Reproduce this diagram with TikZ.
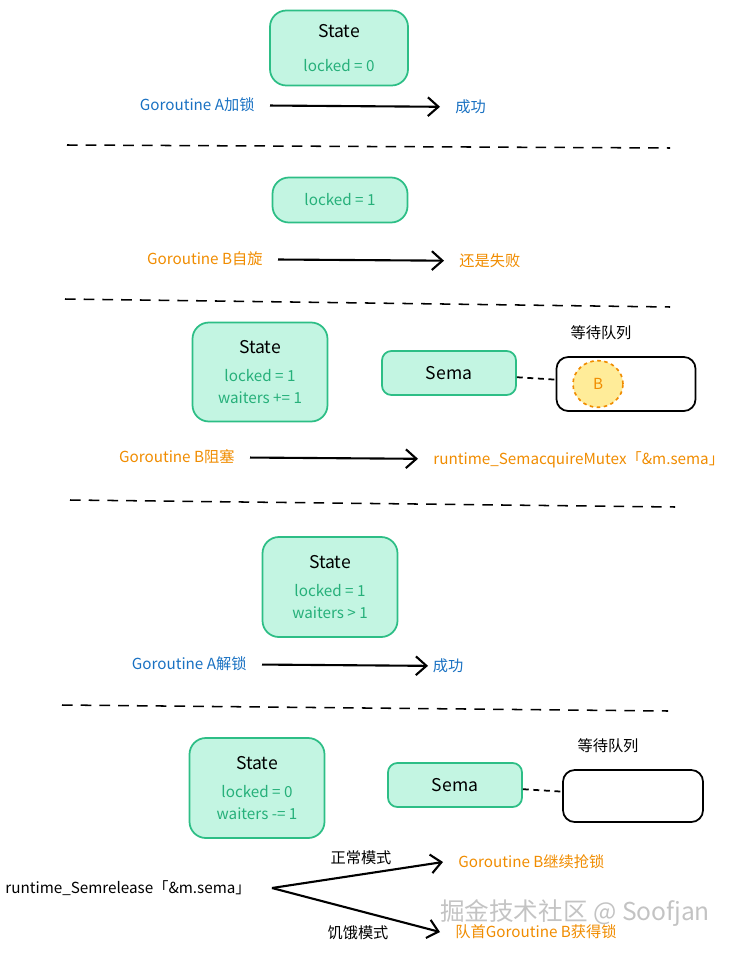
\documentclass[tikz,border=0pt]{standalone}
\usepackage{fontspec}
\usetikzlibrary{arrows.meta,shapes.geometric}
\newfontfamily\cjk{Noto Sans CJK SC}

\definecolor{mintfill}{HTML}{C3F5E2}
\definecolor{mintline}{HTML}{2DBE86}
\definecolor{minttext}{HTML}{26B07A}
\definecolor{goblue}{HTML}{1971C2}
\definecolor{goorange}{HTML}{F08C00}
\definecolor{waitfill}{HTML}{FFEC99}

\tikzset{
 every node/.style={font=\cjk\fontsize{13}{18}\selectfont},
 statebox/.style={draw=mintline, fill=mintfill, line width=1.5pt, rounded corners=14pt, align=center, minimum width=4.05cm},
 semabox/.style={draw=mintline, fill=mintfill, line width=1.5pt, rounded corners=8pt, minimum width=4.02cm, minimum height=1.32cm, font=\cjk\fontsize{15}{18}\selectfont},
 queuebox/.style={draw=black, fill=white, line width=1.5pt, rounded corners=10pt, minimum width=4.2cm, minimum height=1.6cm},
 waiter/.style={ellipse, draw=goorange, fill=waitfill, dashed, line width=1.4pt, minimum width=1.5cm, minimum height=1.4cm, text=goorange},
 flowlabel/.style={inner xsep=13pt},
 flow/.style={-{Straight Barb[length=9pt,width=16pt]}, line width=1.8pt},
 divider/.style={dash pattern=on 9pt off 7pt, line width=1.3pt},
 link/.style={dash pattern=on 5pt off 4pt, line width=1.5pt}
}
\newcommand{\statetitle}{{\fontsize{15}{18}\selectfont State}}

\begin{document}
\begin{tikzpicture}[x=0.03cm,y=-0.03cm]
 \useasboundingbox (0,0) rectangle (739,953);

 \node[statebox, minimum width=4.14cm, minimum height=2.25cm] (s1) at (339,48) {\statetitle\\[11pt]\textcolor{minttext}{locked = 0}};
 \node[flowlabel, anchor=east, text=goblue] (a1) at (270,105) {Goroutine A加锁};
 \node[flowlabel, anchor=west, text=goblue] (r1) at (440,107) {成功};
 \draw[flow] (a1) -- (r1);
 \coordinate (d1l) at (67,145);
 \coordinate (d1r) at (670,148);
 \draw[divider] (d1l) -- (d1r);

 \node[statebox, minimum height=1.35cm] (s2) at (340,200) {\textcolor{minttext}{locked = 1}};
 \node[flowlabel, anchor=east, text=goorange] (b2) at (278,259) {Goroutine B自旋};
 \node[flowlabel, anchor=west, text=goorange] (r2) at (444,261) {还是失败};
 \draw[flow] (b2) -- (r2);
 \coordinate (d2l) at (65,299);
 \coordinate (d2r) at (670,307);
 \draw[divider] (d2l) -- (d2r);

 \node[statebox, minimum height=2.97cm] (s3) at (260,372) {\statetitle\\[6pt]\textcolor{minttext}{locked = 1}\\\textcolor{minttext}{waiters += 1}};
 \node[semabox] (m3) at (449,373) {Sema};
 \node (t3) at (601,333) {等待队列};
 \node[queuebox, minimum width=4.17cm, minimum height=1.62cm] (q3) at (626,384) {};
 \node[waiter] (w3) at (598,384) {B};
 \draw[link] (m3) -- (q3);
 \node[flowlabel, anchor=east, text=goorange] (b3) at (250,457) {Goroutine B阻塞};
 \node[flowlabel, anchor=west, text=goorange] (r3) at (418,460) {runtime\_SemacquireMutex「\&m.sema」};
 \draw[flow] (b3) -- (r3);
 \coordinate (d3l) at (70,500);
 \coordinate (d3r) at (675,507);
 \draw[divider] (d3l) -- (d3r);

 \node[statebox, minimum height=3cm] (s4) at (330,587) {\statetitle\\[6pt]\textcolor{minttext}{locked = 1}\\\textcolor{minttext}{waiters > 1}};
 \node[flowlabel, anchor=east, text=goblue] (a4) at (262,664) {Goroutine A解锁};
 \node[flowlabel, anchor=west, text=goblue, inner xsep=4pt] (r4) at (428,666) {成功};
 \draw[flow] (a4) -- (r4);
 \coordinate (d4l) at (62,705);
 \coordinate (d4r) at (668,711);
 \draw[divider] (d4l) -- (d4r);

 \node[statebox, minimum height=3cm] (s5) at (257,788) {\statetitle\\[6pt]\textcolor{minttext}{locked = 0}\\\textcolor{minttext}{waiters -= 1}};
 \node[semabox] (m5) at (455,785) {Sema};
 \node (t5) at (608,746) {等待队列};
 \node[queuebox, minimum height=1.56cm] (q5) at (633,796) {};
 \draw[link] (m5) -- (q5);
 \node[flowlabel, anchor=east, inner xsep=18pt] (rel) at (272,888) {runtime\_Semrelease「\&m.sema」};
 \node[flowlabel, anchor=west, text=goorange] (nrm) at (443,862) {Goroutine B继续抢锁};
 \node[flowlabel, anchor=west, text=goorange] (stv) at (440,932) {队首Goroutine B获得锁};
 \draw[flow] (rel.east) -- (nrm.west);
 \draw[flow] (rel.east) -- (stv.west);
 \node (nl) at (361,858) {正常模式};
 \node (sl) at (358,933) {饥饿模式};
 \node[text=gray!55, opacity=0.85, font=\cjk\fontsize{21}{25}\selectfont] (wm) at (575,913) {掘金技术社区 @ Soofjan};
\end{tikzpicture}
\end{document}
